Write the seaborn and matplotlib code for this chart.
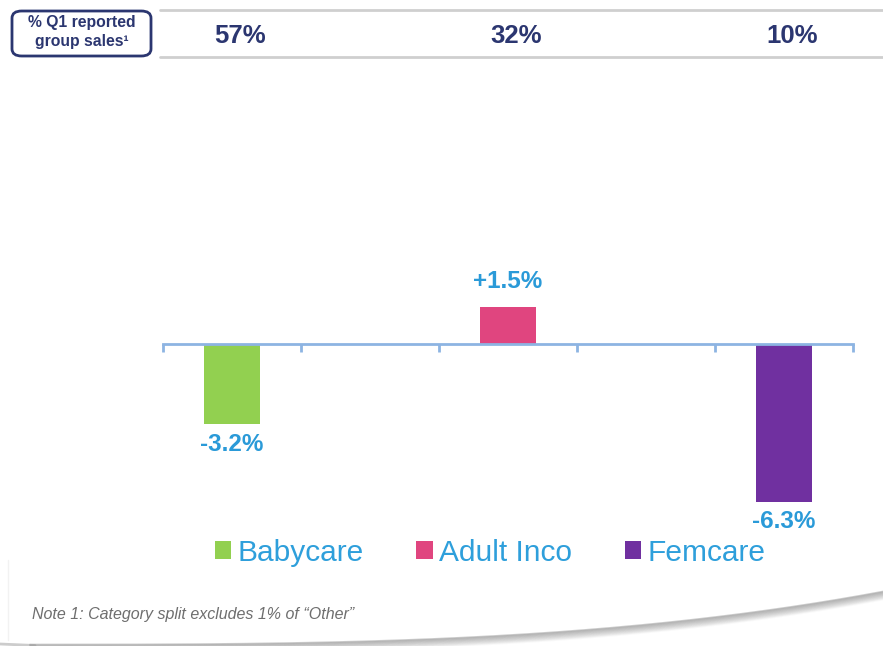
import numpy as np
import pandas as pd
import matplotlib
matplotlib.use("Agg")
import matplotlib.pyplot as plt
import seaborn as sns
from matplotlib.patches import FancyBboxPatch, Patch
from matplotlib.lines import Line2D

# ---- data ----
categories = ["Babycare", "Adult Inco", "Femcare"]
growth = [-3.2, 1.5, -6.3]
growth_labels = ["-3.2%", "+1.5%", "-6.3%"]
share_labels = ["57%", "32%", "10%"]
slot_order = ["Babycare", "gap1", "Adult Inco", "gap2", "Femcare"]
colors = ["#92D050", "#E0457F", "#7030A0"]

sns.set_theme(style="white")
plt.rcParams["font.family"] = ["Liberation Sans", "DejaVu Sans"]

W, H = 883, 646
fig = plt.figure(figsize=(W / 100, H / 100), dpi=100)
fig.patch.set_facecolor("white")

def fx(px):
    return px / W

def fy(py):
    return 1 - py / H

ax = fig.add_axes([fx(163), fy(544), fx(853) - fx(163), fy(244) - fy(544)])
df = pd.DataFrame({"cat": categories, "val": growth})
sns.barplot(data=df, x="cat", y="val", hue="cat", order=slot_order,
            hue_order=categories, palette=colors, width=0.41, dodge=False,
            legend=False, ax=ax, saturation=1, linewidth=0, zorder=3)
ax.set_ylim(-8, 4)
ax.set_xlim(-0.5, 4.5)
ax.set_xlabel("")
ax.set_ylabel("")
ax.set_yticks([])
for s in ["top", "left", "right"]:
    ax.spines[s].set_visible(False)
ax.spines["bottom"].set_position(("data", 0))
ax.spines["bottom"].set_color("#8DB4E2")
ax.spines["bottom"].set_linewidth(2)
ax.spines["bottom"].set_zorder(4)
ax.set_xticks(np.arange(-0.5, 5, 1))
ax.set_xticklabels([])
ax.tick_params(axis="x", direction="out", length=6, width=2, color="#8DB4E2", bottom=True)
ax.set_facecolor("none")

xpos = {c: slot_order.index(c) for c in categories}
for c, v, lab in zip(categories, growth, growth_labels):
    off = 18 if v > 0 else -14.5
    ax.annotate(lab, xy=(xpos[c], v), xytext=(0, off), textcoords="offset points",
                ha="center", va="center", fontsize=17.5, fontweight="bold", color="#2A9AD8")

# header lines and share labels
for py in (10, 57):
    fig.add_artist(Line2D([fx(160), 1.0], [fy(py), fy(py)], color="#CFCFCF", lw=2))
for c, lab in zip(categories, share_labels):
    px = 163 + (xpos[c] + 0.5) * 138
    fig.text(fx(px + 8), fy(36), lab, ha="center", va="center", fontsize=18.5,
             fontweight="bold", color="#2B3670")

box = FancyBboxPatch((fx(12), fy(56)), fx(151) - fx(12), fy(11) - fy(56),
                     boxstyle="round,pad=0,rounding_size=0.011", transform=fig.transFigure,
                     facecolor="white", edgecolor="#2B3670", lw=2)
fig.add_artist(box)
fig.text(fx(82), fy(32), "% Q1 reported\ngroup sales\u00b9", ha="center", va="center",
         fontsize=11.3, fontweight="bold", color="#2B3670", linespacing=1.3)

# legend
handles = [Patch(facecolor=col, edgecolor="none") for col in colors]
leg = fig.legend(handles, categories, loc="center", bbox_to_anchor=(fx(490), fy(553)),
                 ncol=3, frameon=False, fontsize=21.5, labelcolor="#2E9FDB",
                 handlelength=0.55, handleheight=0.55, handletextpad=0.2, columnspacing=1.78)

# note
fig.text(fx(32), fy(615), "Note 1: Category split excludes 1% of \u201cOther\u201d", ha="left",
         va="center", fontsize=11.5, style="italic", color="#6E6E6E")

# decorative swoosh at the bottom
xs = np.linspace(30, 883, 300)
ys = 646 - 53 * ((xs - 30) / 853) ** 3.0 - 1.5
for i in range(10):
    a = 0.4 * (1 - i / 10)
    fig.add_artist(Line2D(fx(xs), fy(ys + i * 0.9), color="#7F7F7F", lw=1.2, alpha=a))
fig.add_artist(Line2D([fx(0), fx(35)], [fy(644), fy(645.5)], color="#9A9A9A", lw=2, alpha=0.5))
fig.add_artist(Line2D([fx(8), fx(8)], [fy(560), fy(640)], color="#F2F2F2", lw=1))

fig.savefig("out.png", dpi=100, facecolor="white")
